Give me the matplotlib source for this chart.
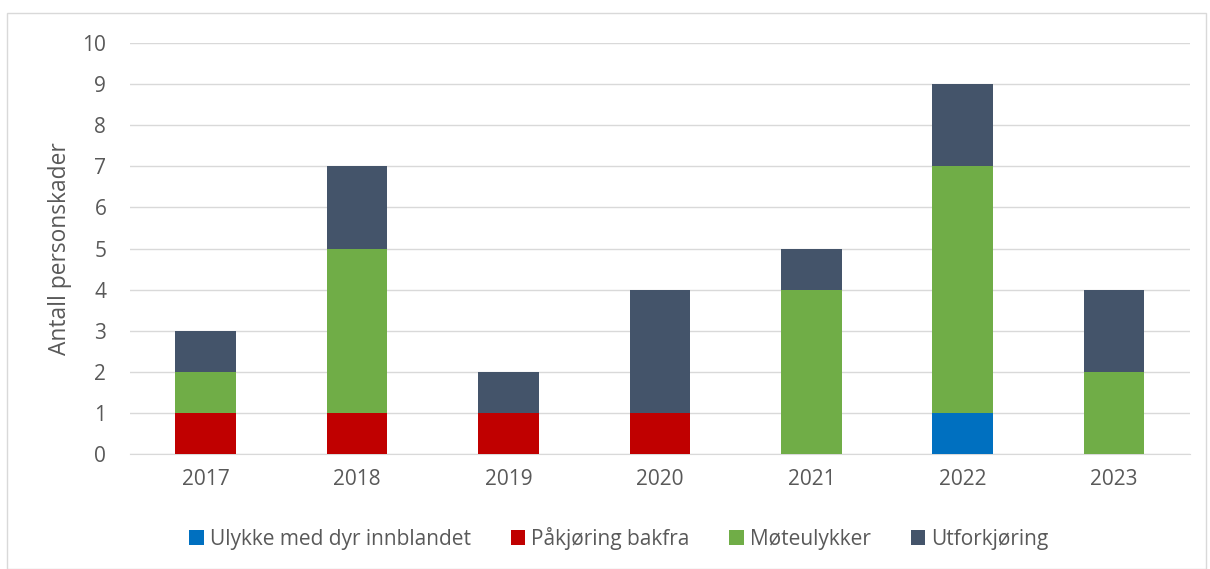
import matplotlib
matplotlib.use("Agg")
import matplotlib.pyplot as plt
from matplotlib.patches import Rectangle
import numpy as np

plt.rcParams['font.family'] = ['Open Sans', 'DejaVu Sans']

years = ["2017", "2018", "2019", "2020", "2021", "2022", "2023"]
series_names = ["Ulykke med dyr innblandet", "Påkjøring bakfra", "Møteulykker", "Utforkjøring"]
dyr = [0, 0, 0, 0, 0, 1, 0]
bakfra = [1, 1, 1, 1, 0, 0, 0]
mote = [1, 4, 0, 0, 4, 6, 2]
utfor = [1, 2, 1, 3, 1, 2, 2]
colors = ["#0070C0", "#C00000", "#70AD47", "#44546A"]

fig = plt.figure(figsize=(12.1, 5.69), dpi=100)
ax = fig.add_axes([0.1074, 0.2021, 0.876, 0.7223])

x = np.arange(len(years))
bottom = np.zeros(len(years))
handles = []
for vals, name, c in zip([dyr, bakfra, mote, utfor], series_names, colors):
    b = ax.bar(x, vals, width=0.4, bottom=bottom, color=c, label=name, zorder=3)
    handles.append(b)
    bottom += np.array(vals)

ax.set_xlim(-0.5, 6.5)
ax.set_ylim(0, 10)
ax.set_yticks(range(0, 11))
ax.set_xticks(x)
ax.set_xticklabels(years)
ax.grid(axis='y', color='#D9D9D9', linewidth=1, zorder=0)
for s in ['top', 'right', 'left']:
    ax.spines[s].set_visible(False)
ax.spines['bottom'].set_color('#D9D9D9')
ax.tick_params(axis='both', length=0, labelsize=15, colors='#595959')
ax.tick_params(axis='x', pad=11)
ax.tick_params(axis='y', pad=17)
ax.set_ylabel("Antall personskader", fontsize=16.4, color='#595959')
ax.yaxis.set_label_coords(-0.0547, 0.5)

leg = fig.legend(handles=handles, labels=series_names, loc='center', bbox_to_anchor=(0.5116, 0.054),
                 ncol=4, frameon=False, fontsize=15, handlelength=0.7, handleheight=0.7,
                 handletextpad=0.3, columnspacing=1.9)
for t in leg.get_texts():
    t.set_color('#595959')

fig.patches.append(Rectangle((0.006, 0.0), 0.991, 0.977, transform=fig.transFigure,
                             fill=False, edgecolor='#D9D9D9', linewidth=1))

fig.savefig("out.png", dpi=100)
